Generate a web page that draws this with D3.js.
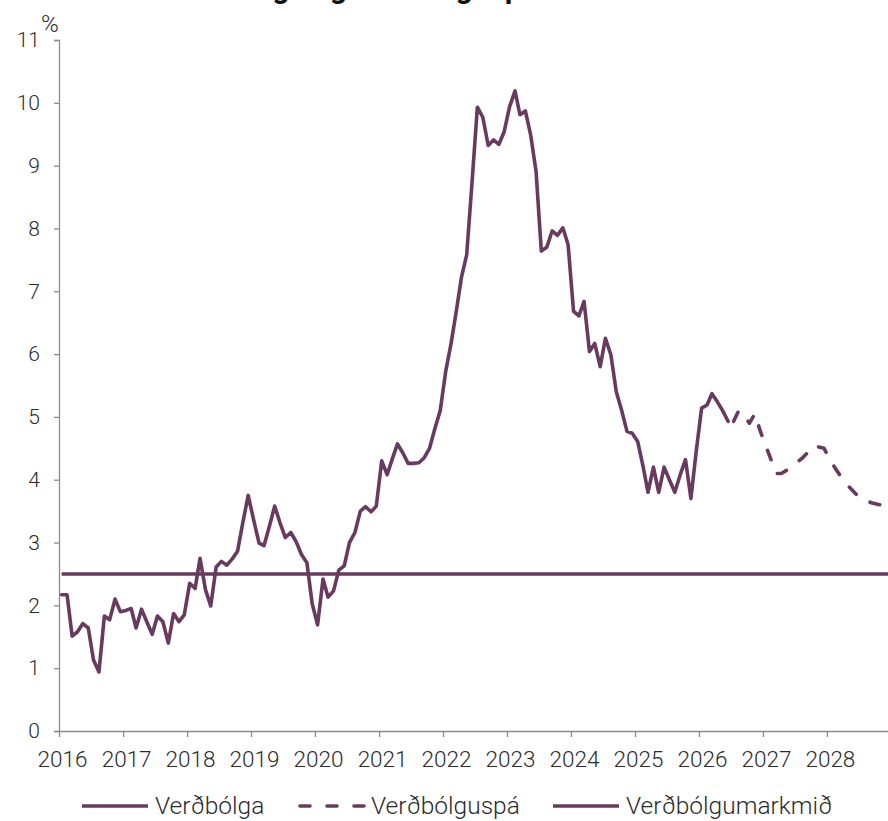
<!DOCTYPE html>
<html lang="is">
<head>
<meta charset="utf-8">
<script src="https://cdn.jsdelivr.net/npm/d3@7"></script>
<style>
  html, body { margin: 0; padding: 0; background: #fff; }
  svg { display: block; font-family: Roboto, "Open Sans", sans-serif; }
</style>
</head>
<body>
<svg id="chart" width="888" height="821"></svg>
<script>
// Tólf mánaða verðbólga, mánaðargildi frá jan. 2016 til jún. 2026 (%)
const inflation = [
  2.17, 2.17, 1.51, 1.58, 1.71, 1.64, 1.13, 0.94, 1.83, 1.77, 2.10, 1.90, // 2016
  1.92, 1.95, 1.64, 1.94, 1.74, 1.54, 1.83, 1.74, 1.40, 1.87, 1.74, 1.85, // 2017
  2.35, 2.27, 2.75, 2.25, 1.99, 2.61, 2.70, 2.64, 2.74, 2.86, 3.33, 3.75, // 2018
  3.36, 2.99, 2.95, 3.26, 3.58, 3.31, 3.08, 3.16, 3.01, 2.81, 2.68, 2.03, // 2019
  1.69, 2.42, 2.13, 2.23, 2.56, 2.63, 3.00, 3.16, 3.50, 3.57, 3.49, 3.58, // 2020
  4.30, 4.08, 4.32, 4.57, 4.43, 4.26, 4.26, 4.27, 4.35, 4.50, 4.82, 5.10, // 2021
  5.72, 6.17, 6.65, 7.22, 7.58, 8.75, 9.93, 9.77, 9.32, 9.41, 9.34, 9.54, // 2022
  9.94, 10.19, 9.81, 9.87, 9.49, 8.91, 7.64, 7.70, 7.96, 7.89, 8.01, 7.74, // 2023
  6.68, 6.61, 6.84, 6.04, 6.17, 5.80, 6.25, 5.99, 5.40, 5.11, 4.77, 4.74, // 2024
  4.61, 4.21, 3.80, 4.20, 3.80, 4.20, 4.00, 3.80, 4.08, 4.32, 3.70, 4.45, // 2025
  5.14, 5.19, 5.37, 5.24, 5.10, 4.93                                      // 2026
];

// Verðbólguspá, mánaðargildi frá jún. 2026 til des. 2028 (%)
const forecast = [
  4.93, 4.92, 5.10, 5.02, 4.90, 5.05, 4.78,                               // 2026
  4.55, 4.32, 4.10, 4.10, 4.15, 4.21, 4.28, 4.35, 4.44, 4.54, 4.52, 4.50, // 2027
  4.33, 4.19, 4.07, 3.95, 3.86, 3.77, 3.71, 3.66, 3.63, 3.61, 3.59, 3.57  // 2028
];

// Verðbólgumarkmið (%)
const targetRate = 2.5;

const yearTicks = d3.range(2016, 2029);
const yTicks = d3.range(0, 12);
const seriesNames = ["Verðbólga", "Verðbólguspá", "Verðbólgumarkmið"];
const titleText = "Verðbólga og verðbólguspá";

const inkColor = "#683a5e";
const textColor = "#2b2b2b";
const axisColor = "#8c8c8c";
const labelFont = "Roboto, sans-serif";

const svg = d3.select("#chart");

const x = d3.scaleTime()
  .domain([new Date(2016, 0, 1), new Date(2029, 0, 1)])
  .range([59, 891]);
const y = d3.scaleLinear().domain([0, 11]).range([731, 40]);

const monthDate = i => new Date(2016, i, 16);
const actual = inflation.map((v, i) => ({ date: monthDate(i), value: v }));
const startForecast = inflation.length - 1;
const projected = forecast.map((v, i) => ({ date: monthDate(startForecast + i), value: v }));
const lastIndex = startForecast + forecast.length - 1;
const target = [
  { date: monthDate(0), value: targetRate },
  { date: monthDate(lastIndex), value: targetRate }
];

// Titill (efsti hluti hans nær upp fyrir myndflötinn)
svg.append("text")
  .attr("x", 167).attr("y", -2)
  .attr("font-size", 30).attr("font-weight", 700)
  .attr("fill", "#111")
  .text(titleText);

// Ásar
const yAxis = svg.append("g")
  .attr("transform", `translate(${x.range()[0]},0)`)
  .call(d3.axisLeft(y).tickValues(yTicks).tickSize(5).tickPadding(14).tickFormat(d3.format("d")));
const xAxis = svg.append("g")
  .attr("transform", `translate(0,${y(0)})`)
  .call(d3.axisBottom(x).tickValues(yearTicks.map(yr => new Date(yr, 0, 1)))
    .tickSize(6).tickPadding(14).tickFormat(d3.timeFormat("%Y")));
xAxis.select(".domain").attr("d", `M${x.range()[0]},0.5H888`);

[yAxis, xAxis].forEach(g => {
  g.selectAll(".domain, .tick line").attr("stroke", axisColor).attr("stroke-width", 1.3);
  g.selectAll("text").attr("fill", textColor).attr("font-family", labelFont).attr("font-weight", 300);
});
yAxis.selectAll("text").attr("font-size", 21);
xAxis.selectAll("text").attr("font-size", 22.5).attr("dx", 3);

svg.append("text")
  .attr("x", 41).attr("y", 32)
  .attr("font-size", 24).attr("font-weight", 300)
  .attr("font-family", labelFont).attr("fill", textColor)
  .text("%");

const line = d3.line().x(d => x(d.date)).y(d => y(d.value));

svg.append("path").datum(target)
  .attr("d", line).attr("fill", "none")
  .attr("stroke", inkColor).attr("stroke-width", 3.6);

svg.append("path").datum(actual)
  .attr("d", line).attr("fill", "none")
  .attr("stroke", inkColor).attr("stroke-width", 3.6)
  .attr("stroke-linejoin", "round").attr("stroke-linecap", "round");

svg.append("path").datum(projected)
  .attr("d", line).attr("fill", "none")
  .attr("stroke", inkColor).attr("stroke-width", 3.6)
  .attr("stroke-linejoin", "round").attr("stroke-linecap", "round")
  .attr("stroke-dasharray", "10,16").attr("stroke-dashoffset", 20);

// Skýringar
const legendItems = [
  { name: seriesNames[0], x0: 82, dash: null },
  { name: seriesNames[1], x0: 298, dash: "10,17" },
  { name: seriesNames[2], x0: 553, dash: null }
];
const legend = svg.append("g").attr("transform", "translate(0,806)");
legendItems.forEach(item => {
  legend.append("line")
    .attr("x1", item.x0 + (item.dash ? 2 : 0)).attr("x2", item.x0 + 66)
    .attr("y1", 0).attr("y2", 0)
    .attr("stroke", inkColor).attr("stroke-width", 3.6)
    .attr("stroke-linecap", item.dash ? "round" : "butt")
    .attr("stroke-dasharray", item.dash);
  legend.append("text")
    .attr("x", item.x0 + 73).attr("y", 8)
    .attr("font-size", 24.5).attr("font-weight", 300)
    .attr("font-family", labelFont).attr("fill", textColor)
    .text(item.name);
});
</script>
</body>
</html>
